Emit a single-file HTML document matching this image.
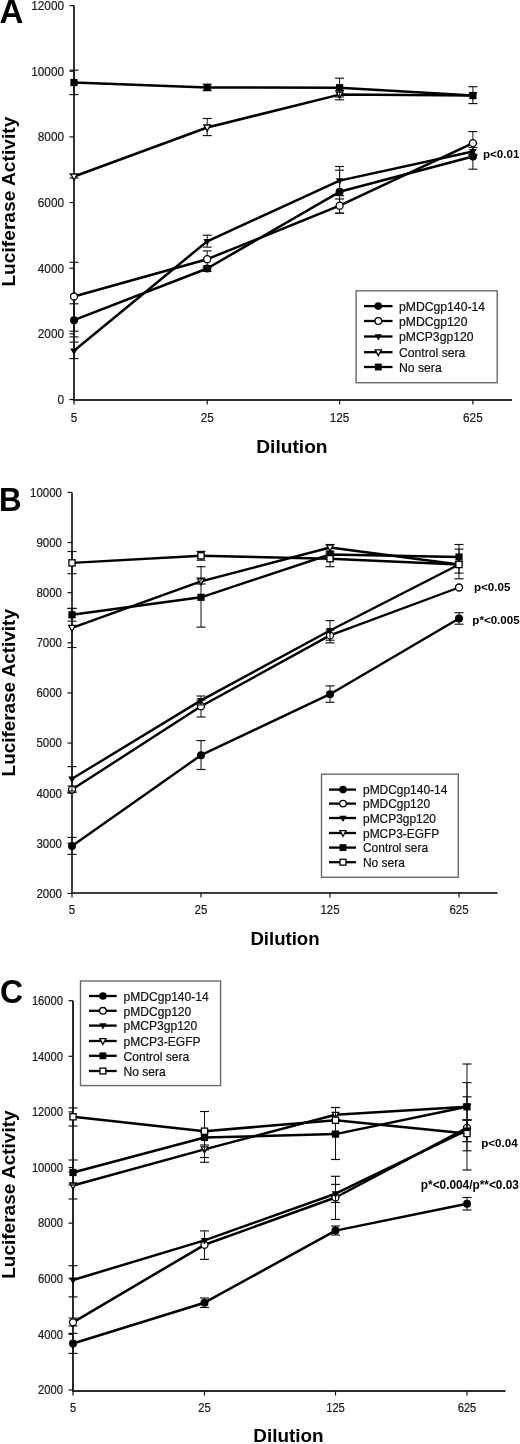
<!DOCTYPE html>
<html><head><meta charset="utf-8"><title>Luciferase Activity</title>
<style>
html,body{margin:0;padding:0;background:#fff;}
body{width:520px;height:1444px;overflow:hidden;}
svg{display:block;filter:grayscale(1);}
text{font-family:"Liberation Sans",sans-serif;fill:#111;}
.tk{font-size:11.4px;fill:#1a1a1a;stroke:#1a1a1a;stroke-width:0.2px;}
.lg{font-size:11.8px;fill:#111;stroke:#111;stroke-width:0.2px;}
.pl{font-size:33px;font-weight:bold;fill:#000;}
.yl{font-size:19.5px;font-weight:bold;fill:#000;}
.xl{font-size:19.2px;font-weight:bold;fill:#000;}
.pv{font-size:11.6px;font-weight:bold;fill:#000;}
</style></head>
<body>
<svg width="520" height="1444" viewBox="0 0 520 1444">
<rect width="520" height="1444" fill="#fff"/>
<g>
<line x1="74" y1="5.6" x2="74" y2="400" stroke="#333" stroke-width="2"/>
<line x1="73" y1="400" x2="512" y2="400" stroke="#333" stroke-width="2"/>
<line x1="69.5" y1="5.6" x2="74" y2="5.6" stroke="#111" stroke-width="1.2"/>
<text transform="translate(64,9.95) scale(1,1.07)" text-anchor="end" class="tk" style="font-size:11.8px">12000</text>
<line x1="69.5" y1="71.25" x2="74" y2="71.25" stroke="#111" stroke-width="1.2"/>
<text transform="translate(64,75.6) scale(1,1.07)" text-anchor="end" class="tk" style="font-size:11.8px">10000</text>
<line x1="69.5" y1="136.9" x2="74" y2="136.9" stroke="#111" stroke-width="1.2"/>
<text transform="translate(64,141.25) scale(1,1.07)" text-anchor="end" class="tk" style="font-size:11.8px">8000</text>
<line x1="69.5" y1="202.55" x2="74" y2="202.55" stroke="#111" stroke-width="1.2"/>
<text transform="translate(64,206.9) scale(1,1.07)" text-anchor="end" class="tk" style="font-size:11.8px">6000</text>
<line x1="69.5" y1="268.2" x2="74" y2="268.2" stroke="#111" stroke-width="1.2"/>
<text transform="translate(64,272.55) scale(1,1.07)" text-anchor="end" class="tk" style="font-size:11.8px">4000</text>
<line x1="69.5" y1="333.85" x2="74" y2="333.85" stroke="#111" stroke-width="1.2"/>
<text transform="translate(64,338.2) scale(1,1.07)" text-anchor="end" class="tk" style="font-size:11.8px">2000</text>
<line x1="69.5" y1="399.5" x2="74" y2="399.5" stroke="#111" stroke-width="1.2"/>
<text transform="translate(64,403.85) scale(1,1.07)" text-anchor="end" class="tk" style="font-size:11.8px">0</text>
<line x1="74" y1="400" x2="74" y2="404.5" stroke="#111" stroke-width="1.2"/>
<text transform="translate(74,421.5) scale(1,1.07)" text-anchor="middle" class="tk" style="font-size:11.8px">5</text>
<line x1="207.2" y1="400" x2="207.2" y2="404.5" stroke="#111" stroke-width="1.2"/>
<text transform="translate(207.2,421.5) scale(1,1.07)" text-anchor="middle" class="tk" style="font-size:11.8px">25</text>
<line x1="339.6" y1="400" x2="339.6" y2="404.5" stroke="#111" stroke-width="1.2"/>
<text transform="translate(339.6,421.5) scale(1,1.07)" text-anchor="middle" class="tk" style="font-size:11.8px">125</text>
<line x1="472.9" y1="400" x2="472.9" y2="404.5" stroke="#111" stroke-width="1.2"/>
<text transform="translate(472.9,421.5) scale(1,1.07)" text-anchor="middle" class="tk" style="font-size:11.8px">625</text>
</g>
<line x1="74" y1="303.8" x2="74" y2="336.9" stroke="#111" stroke-width="1.0"/><line x1="69.5" y1="303.8" x2="78.5" y2="303.8" stroke="#111" stroke-width="1.15"/><line x1="69.5" y1="336.9" x2="78.5" y2="336.9" stroke="#111" stroke-width="1.15"/>
<line x1="207.2" y1="266" x2="207.2" y2="271.3" stroke="#111" stroke-width="1.0"/><line x1="202.7" y1="266" x2="211.7" y2="266" stroke="#111" stroke-width="1.15"/><line x1="202.7" y1="271.3" x2="211.7" y2="271.3" stroke="#111" stroke-width="1.15"/>
<line x1="339.6" y1="170.2" x2="339.6" y2="213.2" stroke="#111" stroke-width="1.0"/><line x1="335.1" y1="170.2" x2="344.1" y2="170.2" stroke="#111" stroke-width="1.15"/><line x1="335.1" y1="213.2" x2="344.1" y2="213.2" stroke="#111" stroke-width="1.15"/>
<line x1="472.9" y1="143.8" x2="472.9" y2="169.2" stroke="#111" stroke-width="1.0"/><line x1="468.4" y1="143.8" x2="477.4" y2="143.8" stroke="#111" stroke-width="1.15"/><line x1="468.4" y1="169.2" x2="477.4" y2="169.2" stroke="#111" stroke-width="1.15"/>
<polyline points="74,320.2 207.2,268.5 339.6,191.8 472.9,156.5" fill="none" stroke="#000" stroke-width="2.5" stroke-linejoin="round"/>
<circle cx="74" cy="320.2" r="4" fill="#000"/>
<circle cx="207.2" cy="268.5" r="4" fill="#000"/>
<circle cx="339.6" cy="191.8" r="4" fill="#000"/>
<circle cx="472.9" cy="156.5" r="4" fill="#000"/>
<line x1="74" y1="262.3" x2="74" y2="331.2" stroke="#111" stroke-width="1.0"/><line x1="69.5" y1="262.3" x2="78.5" y2="262.3" stroke="#111" stroke-width="1.15"/><line x1="69.5" y1="331.2" x2="78.5" y2="331.2" stroke="#111" stroke-width="1.15"/>
<line x1="207.2" y1="250.9" x2="207.2" y2="267.5" stroke="#111" stroke-width="1.0"/><line x1="202.7" y1="250.9" x2="211.7" y2="250.9" stroke="#111" stroke-width="1.15"/><line x1="202.7" y1="267.5" x2="211.7" y2="267.5" stroke="#111" stroke-width="1.15"/>
<line x1="339.6" y1="199" x2="339.6" y2="213.2" stroke="#111" stroke-width="1.0"/><line x1="335.1" y1="199" x2="344.1" y2="199" stroke="#111" stroke-width="1.15"/><line x1="335.1" y1="213.2" x2="344.1" y2="213.2" stroke="#111" stroke-width="1.15"/>
<line x1="472.9" y1="131.6" x2="472.9" y2="154.6" stroke="#111" stroke-width="1.0"/><line x1="468.4" y1="131.6" x2="477.4" y2="131.6" stroke="#111" stroke-width="1.15"/><line x1="468.4" y1="154.6" x2="477.4" y2="154.6" stroke="#111" stroke-width="1.15"/>
<polyline points="74,296.5 207.2,259.2 339.6,205.7 472.9,143.1" fill="none" stroke="#000" stroke-width="2.5" stroke-linejoin="round"/>
<circle cx="74" cy="296.5" r="3.5" fill="#fff" stroke="#000" stroke-width="1.3"/>
<circle cx="207.2" cy="259.2" r="3.5" fill="#fff" stroke="#000" stroke-width="1.3"/>
<circle cx="339.6" cy="205.7" r="3.5" fill="#fff" stroke="#000" stroke-width="1.3"/>
<circle cx="472.9" cy="143.1" r="3.5" fill="#fff" stroke="#000" stroke-width="1.3"/>
<line x1="74" y1="342.1" x2="74" y2="358.6" stroke="#111" stroke-width="1.0"/><line x1="69.5" y1="342.1" x2="78.5" y2="342.1" stroke="#111" stroke-width="1.15"/><line x1="69.5" y1="358.6" x2="78.5" y2="358.6" stroke="#111" stroke-width="1.15"/>
<line x1="207.2" y1="235.2" x2="207.2" y2="247.1" stroke="#111" stroke-width="1.0"/><line x1="202.7" y1="235.2" x2="211.7" y2="235.2" stroke="#111" stroke-width="1.15"/><line x1="202.7" y1="247.1" x2="211.7" y2="247.1" stroke="#111" stroke-width="1.15"/>
<line x1="339.6" y1="166.5" x2="339.6" y2="195.6" stroke="#111" stroke-width="1.0"/><line x1="335.1" y1="166.5" x2="344.1" y2="166.5" stroke="#111" stroke-width="1.15"/><line x1="335.1" y1="195.6" x2="344.1" y2="195.6" stroke="#111" stroke-width="1.15"/>
<line x1="472.9" y1="147.5" x2="472.9" y2="155.5" stroke="#111" stroke-width="1.0"/><line x1="468.4" y1="147.5" x2="477.4" y2="147.5" stroke="#111" stroke-width="1.15"/><line x1="468.4" y1="155.5" x2="477.4" y2="155.5" stroke="#111" stroke-width="1.15"/>
<polyline points="74,350.8 207.2,241.3 339.6,180.6 472.9,151.5" fill="none" stroke="#000" stroke-width="2.5" stroke-linejoin="round"/>
<polygon points="70.2,348.4 77.8,348.4 74,355" fill="#000"/>
<polygon points="203.4,238.9 211,238.9 207.2,245.5" fill="#000"/>
<polygon points="335.8,178.2 343.4,178.2 339.6,184.8" fill="#000"/>
<polygon points="469.1,149.1 476.7,149.1 472.9,155.7" fill="#000"/>
<line x1="74" y1="174.5" x2="74" y2="178" stroke="#111" stroke-width="1.0"/><line x1="69.5" y1="174.5" x2="78.5" y2="174.5" stroke="#111" stroke-width="1.15"/><line x1="69.5" y1="178" x2="78.5" y2="178" stroke="#111" stroke-width="1.15"/>
<line x1="207.2" y1="118.5" x2="207.2" y2="135.6" stroke="#111" stroke-width="1.0"/><line x1="202.7" y1="118.5" x2="211.7" y2="118.5" stroke="#111" stroke-width="1.15"/><line x1="202.7" y1="135.6" x2="211.7" y2="135.6" stroke="#111" stroke-width="1.15"/>
<line x1="339.6" y1="90.6" x2="339.6" y2="99.8" stroke="#111" stroke-width="1.0"/><line x1="335.1" y1="90.6" x2="344.1" y2="90.6" stroke="#111" stroke-width="1.15"/><line x1="335.1" y1="99.8" x2="344.1" y2="99.8" stroke="#111" stroke-width="1.15"/>
<polyline points="74,176.5 207.2,127.5 339.6,94.6 472.9,95.5" fill="none" stroke="#000" stroke-width="2.5" stroke-linejoin="round"/>
<polygon points="70.7,174 77.3,174 74,180.1" fill="#fff" stroke="#000" stroke-width="1.3" stroke-linejoin="miter"/>
<polygon points="203.9,125 210.5,125 207.2,131.1" fill="#fff" stroke="#000" stroke-width="1.3" stroke-linejoin="miter"/>
<polygon points="336.3,92.1 342.9,92.1 339.6,98.2" fill="#fff" stroke="#000" stroke-width="1.3" stroke-linejoin="miter"/>
<polygon points="469.6,93 476.2,93 472.9,99.1" fill="#fff" stroke="#000" stroke-width="1.3" stroke-linejoin="miter"/>
<line x1="74" y1="70.2" x2="74" y2="94.6" stroke="#111" stroke-width="1.0"/><line x1="69.5" y1="70.2" x2="78.5" y2="70.2" stroke="#111" stroke-width="1.15"/><line x1="69.5" y1="94.6" x2="78.5" y2="94.6" stroke="#111" stroke-width="1.15"/>
<line x1="207.2" y1="84.2" x2="207.2" y2="90.6" stroke="#111" stroke-width="1.0"/><line x1="202.7" y1="84.2" x2="211.7" y2="84.2" stroke="#111" stroke-width="1.15"/><line x1="202.7" y1="90.6" x2="211.7" y2="90.6" stroke="#111" stroke-width="1.15"/>
<line x1="339.6" y1="78.2" x2="339.6" y2="97" stroke="#111" stroke-width="1.0"/><line x1="335.1" y1="78.2" x2="344.1" y2="78.2" stroke="#111" stroke-width="1.15"/><line x1="335.1" y1="97" x2="344.1" y2="97" stroke="#111" stroke-width="1.15"/>
<line x1="472.9" y1="86.7" x2="472.9" y2="103.6" stroke="#111" stroke-width="1.0"/><line x1="468.4" y1="86.7" x2="477.4" y2="86.7" stroke="#111" stroke-width="1.15"/><line x1="468.4" y1="103.6" x2="477.4" y2="103.6" stroke="#111" stroke-width="1.15"/>
<polyline points="74,82.5 207.2,87.5 339.6,87.7 472.9,95.5" fill="none" stroke="#000" stroke-width="2.5" stroke-linejoin="round"/>
<rect x="70.4" y="78.9" width="7.2" height="7.2" fill="#000"/>
<rect x="203.6" y="83.9" width="7.2" height="7.2" fill="#000"/>
<rect x="336" y="84.1" width="7.2" height="7.2" fill="#000"/>
<rect x="469.3" y="91.9" width="7.2" height="7.2" fill="#000"/>
<rect x="356.1" y="290.8" width="141.1" height="91.9" fill="#fff" stroke="#6a6a6a" stroke-width="1.4"/>
<line x1="364" y1="306.1" x2="392.5" y2="306.1" stroke="#000" stroke-width="2.3"/>
<circle cx="378.3" cy="306.1" r="3.8" fill="#000"/>
<text x="399" y="310.9" class="lg" style="font-size:12.2px">pMDCgp140-14</text>
<line x1="364" y1="321" x2="392.5" y2="321" stroke="#000" stroke-width="2.3"/>
<circle cx="378.3" cy="321" r="3.32" fill="#fff" stroke="#000" stroke-width="1.3"/>
<text x="399" y="325.8" class="lg" style="font-size:12.2px">pMDCgp120</text>
<line x1="364" y1="336.5" x2="392.5" y2="336.5" stroke="#000" stroke-width="2.3"/>
<polygon points="374.69,334.22 381.91,334.22 378.3,340.49" fill="#000"/>
<text x="399" y="341.3" class="lg" style="font-size:12.2px">pMCP3gp120</text>
<line x1="364" y1="352.2" x2="392.5" y2="352.2" stroke="#000" stroke-width="2.3"/>
<polygon points="375.17,349.82 381.44,349.82 378.3,355.62" fill="#fff" stroke="#000" stroke-width="1.3" stroke-linejoin="miter"/>
<text x="399" y="357" class="lg" style="font-size:12.2px">Control sera</text>
<line x1="364" y1="367" x2="392.5" y2="367" stroke="#000" stroke-width="2.3"/>
<rect x="374.88" y="363.58" width="6.84" height="6.84" fill="#000"/>
<text x="399" y="371.8" class="lg" style="font-size:12.2px">No sera</text>
<text transform="translate(-0.5,23) scale(1,1)" class="pl">A</text>
<text transform="translate(14.7,201.65) rotate(-90)" text-anchor="middle" class="yl" style="font-size:19.2px">Luciferase Activity</text>
<text x="291.9" y="453.1" text-anchor="middle" class="xl" style="font-size:19.2px">Dilution</text>
<text x="483" y="158" class="pv">p&lt;0.01</text>
<g>
<line x1="72" y1="492.4" x2="72" y2="893" stroke="#3c3c3c" stroke-width="2"/>
<line x1="71" y1="893" x2="497.5" y2="893" stroke="#3c3c3c" stroke-width="2"/>
<line x1="67.5" y1="492.4" x2="72" y2="492.4" stroke="#111" stroke-width="1.2"/>
<text transform="translate(62,496.75) scale(1,1.07)" text-anchor="end" class="tk" style="font-size:11.5px">10000</text>
<line x1="67.5" y1="542.53" x2="72" y2="542.53" stroke="#111" stroke-width="1.2"/>
<text transform="translate(62,546.88) scale(1,1.07)" text-anchor="end" class="tk" style="font-size:11.5px">9000</text>
<line x1="67.5" y1="592.66" x2="72" y2="592.66" stroke="#111" stroke-width="1.2"/>
<text transform="translate(62,597.01) scale(1,1.07)" text-anchor="end" class="tk" style="font-size:11.5px">8000</text>
<line x1="67.5" y1="642.79" x2="72" y2="642.79" stroke="#111" stroke-width="1.2"/>
<text transform="translate(62,647.14) scale(1,1.07)" text-anchor="end" class="tk" style="font-size:11.5px">7000</text>
<line x1="67.5" y1="692.92" x2="72" y2="692.92" stroke="#111" stroke-width="1.2"/>
<text transform="translate(62,697.27) scale(1,1.07)" text-anchor="end" class="tk" style="font-size:11.5px">6000</text>
<line x1="67.5" y1="743.05" x2="72" y2="743.05" stroke="#111" stroke-width="1.2"/>
<text transform="translate(62,747.4) scale(1,1.07)" text-anchor="end" class="tk" style="font-size:11.5px">5000</text>
<line x1="67.5" y1="793.18" x2="72" y2="793.18" stroke="#111" stroke-width="1.2"/>
<text transform="translate(62,797.53) scale(1,1.07)" text-anchor="end" class="tk" style="font-size:11.5px">4000</text>
<line x1="67.5" y1="843.31" x2="72" y2="843.31" stroke="#111" stroke-width="1.2"/>
<text transform="translate(62,847.66) scale(1,1.07)" text-anchor="end" class="tk" style="font-size:11.5px">3000</text>
<line x1="67.5" y1="893.44" x2="72" y2="893.44" stroke="#111" stroke-width="1.2"/>
<text transform="translate(62,897.79) scale(1,1.07)" text-anchor="end" class="tk" style="font-size:11.5px">2000</text>
<line x1="72" y1="893" x2="72" y2="897.5" stroke="#111" stroke-width="1.2"/>
<text transform="translate(72,913.8) scale(1,1.07)" text-anchor="middle" class="tk" style="font-size:11.5px">5</text>
<line x1="201" y1="893" x2="201" y2="897.5" stroke="#111" stroke-width="1.2"/>
<text transform="translate(201,913.8) scale(1,1.07)" text-anchor="middle" class="tk" style="font-size:11.5px">25</text>
<line x1="330" y1="893" x2="330" y2="897.5" stroke="#111" stroke-width="1.2"/>
<text transform="translate(330,913.8) scale(1,1.07)" text-anchor="middle" class="tk" style="font-size:11.5px">125</text>
<line x1="459" y1="893" x2="459" y2="897.5" stroke="#111" stroke-width="1.2"/>
<text transform="translate(459,913.8) scale(1,1.07)" text-anchor="middle" class="tk" style="font-size:11.5px">625</text>
</g>
<line x1="72" y1="837.4" x2="72" y2="854.4" stroke="#111" stroke-width="1.0"/><line x1="67.5" y1="837.4" x2="76.5" y2="837.4" stroke="#111" stroke-width="1.15"/><line x1="67.5" y1="854.4" x2="76.5" y2="854.4" stroke="#111" stroke-width="1.15"/>
<line x1="201" y1="740.6" x2="201" y2="769.5" stroke="#111" stroke-width="1.0"/><line x1="196.5" y1="740.6" x2="205.5" y2="740.6" stroke="#111" stroke-width="1.15"/><line x1="196.5" y1="769.5" x2="205.5" y2="769.5" stroke="#111" stroke-width="1.15"/>
<line x1="330" y1="685.9" x2="330" y2="702.3" stroke="#111" stroke-width="1.0"/><line x1="325.5" y1="685.9" x2="334.5" y2="685.9" stroke="#111" stroke-width="1.15"/><line x1="325.5" y1="702.3" x2="334.5" y2="702.3" stroke="#111" stroke-width="1.15"/>
<line x1="459" y1="612.7" x2="459" y2="624.2" stroke="#111" stroke-width="1.0"/><line x1="454.5" y1="612.7" x2="463.5" y2="612.7" stroke="#111" stroke-width="1.15"/><line x1="454.5" y1="624.2" x2="463.5" y2="624.2" stroke="#111" stroke-width="1.15"/>
<polyline points="72,846 201,755.2 330,694.2 459,618.5" fill="none" stroke="#000" stroke-width="2.4" stroke-linejoin="round"/>
<circle cx="72" cy="846" r="4" fill="#000"/>
<circle cx="201" cy="755.2" r="4" fill="#000"/>
<circle cx="330" cy="694.2" r="4" fill="#000"/>
<circle cx="459" cy="618.5" r="4" fill="#000"/>
<line x1="72" y1="786" x2="72" y2="792.5" stroke="#111" stroke-width="1.0"/><line x1="67.5" y1="786" x2="76.5" y2="786" stroke="#111" stroke-width="1.15"/><line x1="67.5" y1="792.5" x2="76.5" y2="792.5" stroke="#111" stroke-width="1.15"/>
<line x1="201" y1="700" x2="201" y2="717" stroke="#111" stroke-width="1.0"/><line x1="196.5" y1="700" x2="205.5" y2="700" stroke="#111" stroke-width="1.15"/><line x1="196.5" y1="717" x2="205.5" y2="717" stroke="#111" stroke-width="1.15"/>
<line x1="330" y1="630" x2="330" y2="642.9" stroke="#111" stroke-width="1.0"/><line x1="325.5" y1="630" x2="334.5" y2="630" stroke="#111" stroke-width="1.15"/><line x1="325.5" y1="642.9" x2="334.5" y2="642.9" stroke="#111" stroke-width="1.15"/>
<polyline points="72,789.6 201,706.2 330,635.4 459,587.5" fill="none" stroke="#000" stroke-width="2.4" stroke-linejoin="round"/>
<circle cx="72" cy="789.6" r="3.5" fill="#fff" stroke="#000" stroke-width="1.3"/>
<circle cx="201" cy="706.2" r="3.5" fill="#fff" stroke="#000" stroke-width="1.3"/>
<circle cx="330" cy="635.4" r="3.5" fill="#fff" stroke="#000" stroke-width="1.3"/>
<circle cx="459" cy="587.5" r="3.5" fill="#fff" stroke="#000" stroke-width="1.3"/>
<line x1="72" y1="766.6" x2="72" y2="791" stroke="#111" stroke-width="1.0"/><line x1="67.5" y1="766.6" x2="76.5" y2="766.6" stroke="#111" stroke-width="1.15"/><line x1="67.5" y1="791" x2="76.5" y2="791" stroke="#111" stroke-width="1.15"/>
<line x1="201" y1="696" x2="201" y2="705" stroke="#111" stroke-width="1.0"/><line x1="196.5" y1="696" x2="205.5" y2="696" stroke="#111" stroke-width="1.15"/><line x1="196.5" y1="705" x2="205.5" y2="705" stroke="#111" stroke-width="1.15"/>
<line x1="330" y1="620.6" x2="330" y2="640.2" stroke="#111" stroke-width="1.0"/><line x1="325.5" y1="620.6" x2="334.5" y2="620.6" stroke="#111" stroke-width="1.15"/><line x1="325.5" y1="640.2" x2="334.5" y2="640.2" stroke="#111" stroke-width="1.15"/>
<polyline points="72,778.8 201,700.4 330,630.5 459,564.5" fill="none" stroke="#000" stroke-width="2.4" stroke-linejoin="round"/>
<polygon points="68.2,776.4 75.8,776.4 72,783" fill="#000"/>
<polygon points="197.2,698 204.8,698 201,704.6" fill="#000"/>
<polygon points="326.2,628.1 333.8,628.1 330,634.7" fill="#000"/>
<polygon points="455.2,562.1 462.8,562.1 459,568.7" fill="#000"/>
<line x1="72" y1="608.3" x2="72" y2="647.5" stroke="#111" stroke-width="1.0"/><line x1="67.5" y1="608.3" x2="76.5" y2="608.3" stroke="#111" stroke-width="1.15"/><line x1="67.5" y1="647.5" x2="76.5" y2="647.5" stroke="#111" stroke-width="1.15"/>
<line x1="201" y1="578" x2="201" y2="584" stroke="#111" stroke-width="1.0"/><line x1="196.5" y1="578" x2="205.5" y2="578" stroke="#111" stroke-width="1.15"/><line x1="196.5" y1="584" x2="205.5" y2="584" stroke="#111" stroke-width="1.15"/>
<line x1="330" y1="544.5" x2="330" y2="551" stroke="#111" stroke-width="1.0"/><line x1="325.5" y1="544.5" x2="334.5" y2="544.5" stroke="#111" stroke-width="1.15"/><line x1="325.5" y1="551" x2="334.5" y2="551" stroke="#111" stroke-width="1.15"/>
<polyline points="72,627.9 201,581.4 330,547.5 459,564.5" fill="none" stroke="#000" stroke-width="2.4" stroke-linejoin="round"/>
<polygon points="68.7,625.4 75.3,625.4 72,631.5" fill="#fff" stroke="#000" stroke-width="1.3" stroke-linejoin="miter"/>
<polygon points="197.7,578.9 204.3,578.9 201,585" fill="#fff" stroke="#000" stroke-width="1.3" stroke-linejoin="miter"/>
<polygon points="326.7,545 333.3,545 330,551.1" fill="#fff" stroke="#000" stroke-width="1.3" stroke-linejoin="miter"/>
<polygon points="455.7,562 462.3,562 459,568.1" fill="#fff" stroke="#000" stroke-width="1.3" stroke-linejoin="miter"/>
<line x1="72" y1="608.6" x2="72" y2="621.2" stroke="#111" stroke-width="1.0"/><line x1="67.5" y1="608.6" x2="76.5" y2="608.6" stroke="#111" stroke-width="1.15"/><line x1="67.5" y1="621.2" x2="76.5" y2="621.2" stroke="#111" stroke-width="1.15"/>
<line x1="201" y1="566.7" x2="201" y2="627.1" stroke="#111" stroke-width="1.0"/><line x1="196.5" y1="566.7" x2="205.5" y2="566.7" stroke="#111" stroke-width="1.15"/><line x1="196.5" y1="627.1" x2="205.5" y2="627.1" stroke="#111" stroke-width="1.15"/>
<line x1="459" y1="544.5" x2="459" y2="573.1" stroke="#111" stroke-width="1.0"/><line x1="454.5" y1="544.5" x2="463.5" y2="544.5" stroke="#111" stroke-width="1.15"/><line x1="454.5" y1="573.1" x2="463.5" y2="573.1" stroke="#111" stroke-width="1.15"/>
<polyline points="72,614.8 201,597.3 330,554.5 459,557" fill="none" stroke="#000" stroke-width="2.4" stroke-linejoin="round"/>
<rect x="68.4" y="611.2" width="7.2" height="7.2" fill="#000"/>
<rect x="197.4" y="593.7" width="7.2" height="7.2" fill="#000"/>
<rect x="326.4" y="550.9" width="7.2" height="7.2" fill="#000"/>
<rect x="455.4" y="553.4" width="7.2" height="7.2" fill="#000"/>
<line x1="72" y1="551.5" x2="72" y2="573.7" stroke="#111" stroke-width="1.0"/><line x1="67.5" y1="551.5" x2="76.5" y2="551.5" stroke="#111" stroke-width="1.15"/><line x1="67.5" y1="573.7" x2="76.5" y2="573.7" stroke="#111" stroke-width="1.15"/>
<line x1="201" y1="551.4" x2="201" y2="560.2" stroke="#111" stroke-width="1.0"/><line x1="196.5" y1="551.4" x2="205.5" y2="551.4" stroke="#111" stroke-width="1.15"/><line x1="196.5" y1="560.2" x2="205.5" y2="560.2" stroke="#111" stroke-width="1.15"/>
<line x1="330" y1="553" x2="330" y2="566.7" stroke="#111" stroke-width="1.0"/><line x1="325.5" y1="553" x2="334.5" y2="553" stroke="#111" stroke-width="1.15"/><line x1="325.5" y1="566.7" x2="334.5" y2="566.7" stroke="#111" stroke-width="1.15"/>
<line x1="459" y1="549.1" x2="459" y2="578.8" stroke="#111" stroke-width="1.0"/><line x1="454.5" y1="549.1" x2="463.5" y2="549.1" stroke="#111" stroke-width="1.15"/><line x1="454.5" y1="578.8" x2="463.5" y2="578.8" stroke="#111" stroke-width="1.15"/>
<polyline points="72,562.9 201,555.8 330,558.7 459,564.5" fill="none" stroke="#000" stroke-width="2.4" stroke-linejoin="round"/>
<rect x="68.9" y="559.8" width="6.2" height="6.2" fill="#fff" stroke="#000" stroke-width="1.3"/>
<rect x="197.9" y="552.7" width="6.2" height="6.2" fill="#fff" stroke="#000" stroke-width="1.3"/>
<rect x="326.9" y="555.6" width="6.2" height="6.2" fill="#fff" stroke="#000" stroke-width="1.3"/>
<rect x="455.9" y="561.4" width="6.2" height="6.2" fill="#fff" stroke="#000" stroke-width="1.3"/>
<rect x="321.5" y="774.2" width="136.8" height="103.1" fill="#fff" stroke="#6a6a6a" stroke-width="1.4"/>
<line x1="329" y1="789.6" x2="356" y2="789.6" stroke="#000" stroke-width="2.3"/>
<circle cx="343" cy="789.6" r="3.8" fill="#000"/>
<text x="363" y="794.4" class="lg" style="font-size:11.95px">pMDCgp140-14</text>
<line x1="329" y1="803.6" x2="356" y2="803.6" stroke="#000" stroke-width="2.3"/>
<circle cx="343" cy="803.6" r="3.32" fill="#fff" stroke="#000" stroke-width="1.3"/>
<text x="363" y="808.4" class="lg" style="font-size:11.95px">pMDCgp120</text>
<line x1="329" y1="818" x2="356" y2="818" stroke="#000" stroke-width="2.3"/>
<polygon points="339.39,815.72 346.61,815.72 343,821.99" fill="#000"/>
<text x="363" y="822.8" class="lg" style="font-size:11.95px">pMCP3gp120</text>
<line x1="329" y1="833" x2="356" y2="833" stroke="#000" stroke-width="2.3"/>
<polygon points="339.87,830.62 346.13,830.62 343,836.42" fill="#fff" stroke="#000" stroke-width="1.3" stroke-linejoin="miter"/>
<text x="363" y="837.8" class="lg" style="font-size:11.95px">pMCP3-EGFP</text>
<line x1="329" y1="847.6" x2="356" y2="847.6" stroke="#000" stroke-width="2.3"/>
<rect x="339.58" y="844.18" width="6.84" height="6.84" fill="#000"/>
<text x="363" y="852.4" class="lg" style="font-size:11.95px">Control sera</text>
<line x1="329" y1="862.2" x2="356" y2="862.2" stroke="#000" stroke-width="2.3"/>
<rect x="340.06" y="859.25" width="5.89" height="5.89" fill="#fff" stroke="#000" stroke-width="1.3"/>
<text x="363" y="867" class="lg" style="font-size:11.95px">No sera</text>
<text transform="translate(-1,510.6) scale(0.95,1)" class="pl">B</text>
<text transform="translate(15.4,692.75) rotate(-90)" text-anchor="middle" class="yl" style="font-size:18.9px">Luciferase Activity</text>
<text x="285" y="944.6" text-anchor="middle" class="xl" style="font-size:18.6px">Dilution</text>
<text x="474" y="591" class="pv">p&lt;0.05</text>
<text x="472.3" y="624.2" class="pv">p*&lt;0.005</text>
<g>
<line x1="73" y1="1000.7" x2="73" y2="1391" stroke="#2a2a2a" stroke-width="2"/>
<line x1="72" y1="1391" x2="505.5" y2="1391" stroke="#2a2a2a" stroke-width="2"/>
<line x1="68.5" y1="1000.7" x2="73" y2="1000.7" stroke="#111" stroke-width="1.2"/>
<text transform="translate(63,1005.05) scale(1,1.07)" text-anchor="end" class="tk" style="font-size:11.2px">16000</text>
<line x1="68.5" y1="1056.31" x2="73" y2="1056.31" stroke="#111" stroke-width="1.2"/>
<text transform="translate(63,1060.66) scale(1,1.07)" text-anchor="end" class="tk" style="font-size:11.2px">14000</text>
<line x1="68.5" y1="1111.92" x2="73" y2="1111.92" stroke="#111" stroke-width="1.2"/>
<text transform="translate(63,1116.27) scale(1,1.07)" text-anchor="end" class="tk" style="font-size:11.2px">12000</text>
<line x1="68.5" y1="1167.53" x2="73" y2="1167.53" stroke="#111" stroke-width="1.2"/>
<text transform="translate(63,1171.88) scale(1,1.07)" text-anchor="end" class="tk" style="font-size:11.2px">10000</text>
<line x1="68.5" y1="1223.14" x2="73" y2="1223.14" stroke="#111" stroke-width="1.2"/>
<text transform="translate(63,1227.49) scale(1,1.07)" text-anchor="end" class="tk" style="font-size:11.2px">8000</text>
<line x1="68.5" y1="1278.75" x2="73" y2="1278.75" stroke="#111" stroke-width="1.2"/>
<text transform="translate(63,1283.1) scale(1,1.07)" text-anchor="end" class="tk" style="font-size:11.2px">6000</text>
<line x1="68.5" y1="1334.36" x2="73" y2="1334.36" stroke="#111" stroke-width="1.2"/>
<text transform="translate(63,1338.71) scale(1,1.07)" text-anchor="end" class="tk" style="font-size:11.2px">4000</text>
<line x1="68.5" y1="1389.97" x2="73" y2="1389.97" stroke="#111" stroke-width="1.2"/>
<text transform="translate(63,1394.32) scale(1,1.07)" text-anchor="end" class="tk" style="font-size:11.2px">2000</text>
<line x1="73" y1="1391" x2="73" y2="1395.5" stroke="#111" stroke-width="1.2"/>
<text transform="translate(73,1412) scale(1,1.07)" text-anchor="middle" class="tk" style="font-size:11.2px">5</text>
<line x1="204.5" y1="1391" x2="204.5" y2="1395.5" stroke="#111" stroke-width="1.2"/>
<text transform="translate(204.5,1412) scale(1,1.07)" text-anchor="middle" class="tk" style="font-size:11.2px">25</text>
<line x1="335.5" y1="1391" x2="335.5" y2="1395.5" stroke="#111" stroke-width="1.2"/>
<text transform="translate(335.5,1412) scale(1,1.07)" text-anchor="middle" class="tk" style="font-size:11.2px">125</text>
<line x1="467" y1="1391" x2="467" y2="1395.5" stroke="#111" stroke-width="1.2"/>
<text transform="translate(467,1412) scale(1,1.07)" text-anchor="middle" class="tk" style="font-size:11.2px">625</text>
</g>
<line x1="73" y1="1333.4" x2="73" y2="1353.4" stroke="#111" stroke-width="1.0"/><line x1="68.5" y1="1333.4" x2="77.5" y2="1333.4" stroke="#111" stroke-width="1.15"/><line x1="68.5" y1="1353.4" x2="77.5" y2="1353.4" stroke="#111" stroke-width="1.15"/>
<line x1="204.5" y1="1298" x2="204.5" y2="1307.5" stroke="#111" stroke-width="1.0"/><line x1="200" y1="1298" x2="209" y2="1298" stroke="#111" stroke-width="1.15"/><line x1="200" y1="1307.5" x2="209" y2="1307.5" stroke="#111" stroke-width="1.15"/>
<line x1="335.5" y1="1226" x2="335.5" y2="1235" stroke="#111" stroke-width="1.0"/><line x1="331" y1="1226" x2="340" y2="1226" stroke="#111" stroke-width="1.15"/><line x1="331" y1="1235" x2="340" y2="1235" stroke="#111" stroke-width="1.15"/>
<line x1="467" y1="1197.5" x2="467" y2="1210" stroke="#111" stroke-width="1.0"/><line x1="462.5" y1="1197.5" x2="471.5" y2="1197.5" stroke="#111" stroke-width="1.15"/><line x1="462.5" y1="1210" x2="471.5" y2="1210" stroke="#111" stroke-width="1.15"/>
<polyline points="73,1343.5 204.5,1302.7 335.5,1230.6 467,1203.8" fill="none" stroke="#000" stroke-width="2.5" stroke-linejoin="round"/>
<circle cx="73" cy="1343.5" r="4" fill="#000"/>
<circle cx="204.5" cy="1302.7" r="4" fill="#000"/>
<circle cx="335.5" cy="1230.6" r="4" fill="#000"/>
<circle cx="467" cy="1203.8" r="4" fill="#000"/>
<line x1="73" y1="1318" x2="73" y2="1326" stroke="#111" stroke-width="1.0"/><line x1="68.5" y1="1318" x2="77.5" y2="1318" stroke="#111" stroke-width="1.15"/><line x1="68.5" y1="1326" x2="77.5" y2="1326" stroke="#111" stroke-width="1.15"/>
<line x1="204.5" y1="1230.9" x2="204.5" y2="1259.4" stroke="#111" stroke-width="1.0"/><line x1="200" y1="1230.9" x2="209" y2="1230.9" stroke="#111" stroke-width="1.15"/><line x1="200" y1="1259.4" x2="209" y2="1259.4" stroke="#111" stroke-width="1.15"/>
<line x1="335.5" y1="1184.4" x2="335.5" y2="1202.5" stroke="#111" stroke-width="1.0"/><line x1="331" y1="1184.4" x2="340" y2="1184.4" stroke="#111" stroke-width="1.15"/><line x1="331" y1="1202.5" x2="340" y2="1202.5" stroke="#111" stroke-width="1.15"/>
<line x1="467" y1="1082.6" x2="467" y2="1170" stroke="#111" stroke-width="1.0"/><line x1="462.5" y1="1082.6" x2="471.5" y2="1082.6" stroke="#111" stroke-width="1.15"/><line x1="462.5" y1="1170" x2="471.5" y2="1170" stroke="#111" stroke-width="1.15"/>
<polyline points="73,1322.3 204.5,1244.8 335.5,1197.5 467,1127.9" fill="none" stroke="#000" stroke-width="2.5" stroke-linejoin="round"/>
<circle cx="73" cy="1322.3" r="3.5" fill="#fff" stroke="#000" stroke-width="1.3"/>
<circle cx="204.5" cy="1244.8" r="3.5" fill="#fff" stroke="#000" stroke-width="1.3"/>
<circle cx="335.5" cy="1197.5" r="3.5" fill="#fff" stroke="#000" stroke-width="1.3"/>
<circle cx="467" cy="1127.9" r="3.5" fill="#fff" stroke="#000" stroke-width="1.3"/>
<line x1="73" y1="1265.7" x2="73" y2="1296.9" stroke="#111" stroke-width="1.0"/><line x1="68.5" y1="1265.7" x2="77.5" y2="1265.7" stroke="#111" stroke-width="1.15"/><line x1="68.5" y1="1296.9" x2="77.5" y2="1296.9" stroke="#111" stroke-width="1.15"/>
<line x1="335.5" y1="1176.3" x2="335.5" y2="1219.4" stroke="#111" stroke-width="1.0"/><line x1="331" y1="1176.3" x2="340" y2="1176.3" stroke="#111" stroke-width="1.15"/><line x1="331" y1="1219.4" x2="340" y2="1219.4" stroke="#111" stroke-width="1.15"/>
<line x1="467" y1="1120" x2="467" y2="1141.6" stroke="#111" stroke-width="1.0"/><line x1="462.5" y1="1120" x2="471.5" y2="1120" stroke="#111" stroke-width="1.15"/><line x1="462.5" y1="1141.6" x2="471.5" y2="1141.6" stroke="#111" stroke-width="1.15"/>
<polyline points="73,1280 204.5,1240.4 335.5,1193.7 467,1130" fill="none" stroke="#000" stroke-width="2.5" stroke-linejoin="round"/>
<polygon points="69.2,1277.6 76.8,1277.6 73,1284.2" fill="#000"/>
<polygon points="200.7,1238 208.3,1238 204.5,1244.6" fill="#000"/>
<polygon points="331.7,1191.3 339.3,1191.3 335.5,1197.9" fill="#000"/>
<polygon points="463.2,1127.6 470.8,1127.6 467,1134.2" fill="#000"/>
<line x1="73" y1="1172" x2="73" y2="1199" stroke="#111" stroke-width="1.0"/><line x1="68.5" y1="1172" x2="77.5" y2="1172" stroke="#111" stroke-width="1.15"/><line x1="68.5" y1="1199" x2="77.5" y2="1199" stroke="#111" stroke-width="1.15"/>
<line x1="204.5" y1="1145" x2="204.5" y2="1157.5" stroke="#111" stroke-width="1.0"/><line x1="200" y1="1145" x2="209" y2="1145" stroke="#111" stroke-width="1.15"/><line x1="200" y1="1157.5" x2="209" y2="1157.5" stroke="#111" stroke-width="1.15"/>
<line x1="335.5" y1="1107.5" x2="335.5" y2="1120" stroke="#111" stroke-width="1.0"/><line x1="331" y1="1107.5" x2="340" y2="1107.5" stroke="#111" stroke-width="1.15"/><line x1="331" y1="1120" x2="340" y2="1120" stroke="#111" stroke-width="1.15"/>
<line x1="467" y1="1064" x2="467" y2="1150.8" stroke="#111" stroke-width="1.0"/><line x1="462.5" y1="1064" x2="471.5" y2="1064" stroke="#111" stroke-width="1.15"/><line x1="462.5" y1="1150.8" x2="471.5" y2="1150.8" stroke="#111" stroke-width="1.15"/>
<polyline points="73,1185.5 204.5,1149.4 335.5,1114.8 467,1106.8" fill="none" stroke="#000" stroke-width="2.5" stroke-linejoin="round"/>
<polygon points="69.7,1183 76.3,1183 73,1189.1" fill="#fff" stroke="#000" stroke-width="1.3" stroke-linejoin="miter"/>
<polygon points="201.2,1146.9 207.8,1146.9 204.5,1153" fill="#fff" stroke="#000" stroke-width="1.3" stroke-linejoin="miter"/>
<polygon points="332.2,1112.3 338.8,1112.3 335.5,1118.4" fill="#fff" stroke="#000" stroke-width="1.3" stroke-linejoin="miter"/>
<polygon points="463.7,1104.3 470.3,1104.3 467,1110.4" fill="#fff" stroke="#000" stroke-width="1.3" stroke-linejoin="miter"/>
<line x1="73" y1="1160" x2="73" y2="1185" stroke="#111" stroke-width="1.0"/><line x1="68.5" y1="1160" x2="77.5" y2="1160" stroke="#111" stroke-width="1.15"/><line x1="68.5" y1="1185" x2="77.5" y2="1185" stroke="#111" stroke-width="1.15"/>
<line x1="204.5" y1="1132" x2="204.5" y2="1162.3" stroke="#111" stroke-width="1.0"/><line x1="200" y1="1132" x2="209" y2="1132" stroke="#111" stroke-width="1.15"/><line x1="200" y1="1162.3" x2="209" y2="1162.3" stroke="#111" stroke-width="1.15"/>
<line x1="335.5" y1="1120" x2="335.5" y2="1159.5" stroke="#111" stroke-width="1.0"/><line x1="331" y1="1120" x2="340" y2="1120" stroke="#111" stroke-width="1.15"/><line x1="331" y1="1159.5" x2="340" y2="1159.5" stroke="#111" stroke-width="1.15"/>
<line x1="467" y1="1096.8" x2="467" y2="1120" stroke="#111" stroke-width="1.0"/><line x1="462.5" y1="1096.8" x2="471.5" y2="1096.8" stroke="#111" stroke-width="1.15"/><line x1="462.5" y1="1120" x2="471.5" y2="1120" stroke="#111" stroke-width="1.15"/>
<polyline points="73,1172.5 204.5,1137.5 335.5,1134.1 467,1106.8" fill="none" stroke="#000" stroke-width="2.5" stroke-linejoin="round"/>
<rect x="69.4" y="1168.9" width="7.2" height="7.2" fill="#000"/>
<rect x="200.9" y="1133.9" width="7.2" height="7.2" fill="#000"/>
<rect x="331.9" y="1130.5" width="7.2" height="7.2" fill="#000"/>
<rect x="463.4" y="1103.2" width="7.2" height="7.2" fill="#000"/>
<line x1="73" y1="1107.9" x2="73" y2="1126" stroke="#111" stroke-width="1.0"/><line x1="68.5" y1="1107.9" x2="77.5" y2="1107.9" stroke="#111" stroke-width="1.15"/><line x1="68.5" y1="1126" x2="77.5" y2="1126" stroke="#111" stroke-width="1.15"/>
<line x1="204.5" y1="1111.5" x2="204.5" y2="1150" stroke="#111" stroke-width="1.0"/><line x1="200" y1="1111.5" x2="209" y2="1111.5" stroke="#111" stroke-width="1.15"/><line x1="200" y1="1150" x2="209" y2="1150" stroke="#111" stroke-width="1.15"/>
<line x1="335.5" y1="1107.5" x2="335.5" y2="1133" stroke="#111" stroke-width="1.0"/><line x1="331" y1="1107.5" x2="340" y2="1107.5" stroke="#111" stroke-width="1.15"/><line x1="331" y1="1133" x2="340" y2="1133" stroke="#111" stroke-width="1.15"/>
<line x1="467" y1="1120" x2="467" y2="1141.6" stroke="#111" stroke-width="1.0"/><line x1="462.5" y1="1120" x2="471.5" y2="1120" stroke="#111" stroke-width="1.15"/><line x1="462.5" y1="1141.6" x2="471.5" y2="1141.6" stroke="#111" stroke-width="1.15"/>
<polyline points="73,1116.8 204.5,1131.2 335.5,1120.2 467,1133.5" fill="none" stroke="#000" stroke-width="2.5" stroke-linejoin="round"/>
<rect x="69.9" y="1113.7" width="6.2" height="6.2" fill="#fff" stroke="#000" stroke-width="1.3"/>
<rect x="201.4" y="1128.1" width="6.2" height="6.2" fill="#fff" stroke="#000" stroke-width="1.3"/>
<rect x="332.4" y="1117.1" width="6.2" height="6.2" fill="#fff" stroke="#000" stroke-width="1.3"/>
<rect x="463.9" y="1130.4" width="6.2" height="6.2" fill="#fff" stroke="#000" stroke-width="1.3"/>
<rect x="80.5" y="981" width="140.1" height="104.6" fill="#fff" stroke="#6a6a6a" stroke-width="1.4"/>
<line x1="89" y1="996" x2="116.7" y2="996" stroke="#000" stroke-width="2.3"/>
<circle cx="102.9" cy="996" r="3.8" fill="#000"/>
<text x="123.6" y="1000.8" class="lg" style="font-size:12.05px">pMDCgp140-14</text>
<line x1="89" y1="1010.8" x2="116.7" y2="1010.8" stroke="#000" stroke-width="2.3"/>
<circle cx="102.9" cy="1010.8" r="3.32" fill="#fff" stroke="#000" stroke-width="1.3"/>
<text x="123.6" y="1015.6" class="lg" style="font-size:12.05px">pMDCgp120</text>
<line x1="89" y1="1025.6" x2="116.7" y2="1025.6" stroke="#000" stroke-width="2.3"/>
<polygon points="99.29,1023.32 106.51,1023.32 102.9,1029.59" fill="#000"/>
<text x="123.6" y="1030.4" class="lg" style="font-size:12.05px">pMCP3gp120</text>
<line x1="89" y1="1041" x2="116.7" y2="1041" stroke="#000" stroke-width="2.3"/>
<polygon points="99.77,1038.62 106.04,1038.62 102.9,1044.42" fill="#fff" stroke="#000" stroke-width="1.3" stroke-linejoin="miter"/>
<text x="123.6" y="1045.8" class="lg" style="font-size:12.05px">pMCP3-EGFP</text>
<line x1="89" y1="1055.8" x2="116.7" y2="1055.8" stroke="#000" stroke-width="2.3"/>
<rect x="99.48" y="1052.38" width="6.84" height="6.84" fill="#000"/>
<text x="123.6" y="1060.6" class="lg" style="font-size:12.05px">Control sera</text>
<line x1="89" y1="1071" x2="116.7" y2="1071" stroke="#000" stroke-width="2.3"/>
<rect x="99.96" y="1068.06" width="5.89" height="5.89" fill="#fff" stroke="#000" stroke-width="1.3"/>
<text x="123.6" y="1075.8" class="lg" style="font-size:12.05px">No sera</text>
<text transform="translate(0.1,1003.3) scale(0.97,1)" class="pl">C</text>
<text transform="translate(14.8,1194.6) rotate(-90)" text-anchor="middle" class="yl" style="font-size:19.05px">Luciferase Activity</text>
<text x="288.5" y="1442.3" text-anchor="middle" class="xl" style="font-size:18.9px">Dilution</text>
<text x="481.2" y="1147.2" class="pv">p&lt;0.04</text>
<text x="420.8" y="1188.8" class="pv" style="font-size:11.85px">p*&lt;0.004/p**&lt;0.03</text>
</svg>
</body></html>
